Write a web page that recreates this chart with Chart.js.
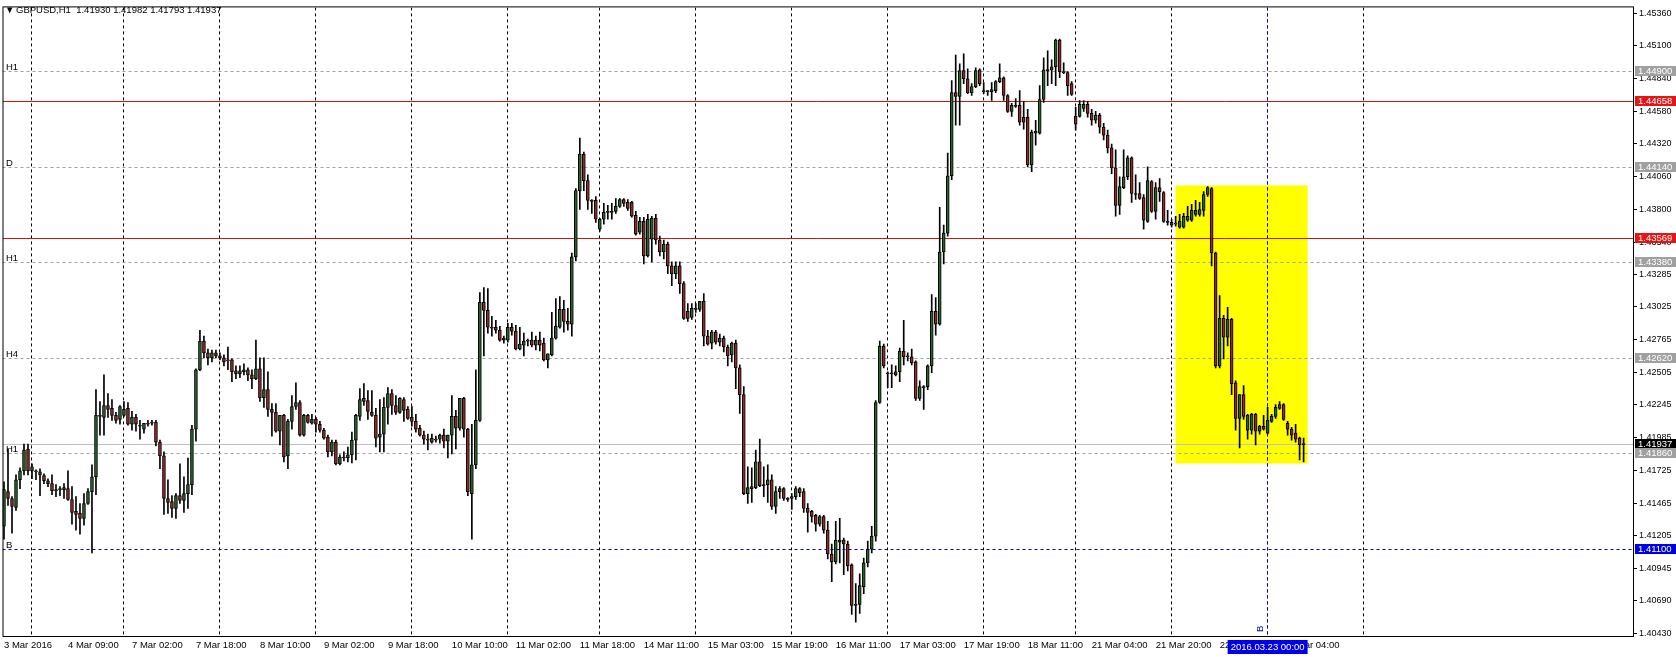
<!DOCTYPE html>
<html>
<head>
<meta charset="utf-8">
<title>GBPUSD,H1</title>
<script src="https://cdn.jsdelivr.net/npm/chart.js@4.4.1/dist/chart.umd.min.js"></script>
<style>
  html, body { margin: 0; padding: 0; background: #ffffff; }
  #wrap { width: 1676px; height: 657px; }
</style>
</head>
<body>
<div id="wrap"><canvas id="priceChart" width="1676" height="657"></canvas></div>
<script>
// GBPUSD H1 candles, bar 0 = 3 Mar 17:00 ... bar 325 = 23 Mar 09:00
const opens = [
  1.41281, 1.41557, 1.41502, 1.41431, 1.41651, 1.41722, 1.41895, 1.41722, 1.41714, 1.41714,
  1.41683, 1.41643, 1.41620, 1.41572, 1.41572, 1.41572, 1.41580, 1.41494, 1.41399, 1.41384,
  1.41344, 1.41462, 1.41557, 1.41675, 1.42163, 1.42147, 1.42241, 1.42218, 1.42163, 1.42131,
  1.42163, 1.42218, 1.42092, 1.42147, 1.42076, 1.42053, 1.42100, 1.42107, 1.42107, 1.41950,
  1.41840, 1.41502, 1.41478, 1.41423, 1.41525, 1.41486, 1.41541, 1.41612, 1.42053, 1.42525,
  1.42753, 1.42659, 1.42619, 1.42659, 1.42635, 1.42619, 1.42603, 1.42603, 1.42517, 1.42493,
  1.42509, 1.42525, 1.42485, 1.42454, 1.42533, 1.42304, 1.42367, 1.42210, 1.42186, 1.42037,
  1.42163, 1.41840, 1.42115, 1.42233, 1.42265, 1.42005, 1.42163, 1.42100, 1.42131, 1.42092,
  1.42045, 1.41989, 1.41872, 1.41950, 1.41777, 1.41832, 1.41824, 1.41848, 1.41966, 1.42155,
  1.42297, 1.42281, 1.42186, 1.42163, 1.41989, 1.42013, 1.42226, 1.42336, 1.42241, 1.42186,
  1.42289, 1.42210, 1.42147, 1.42115, 1.42060, 1.42005, 1.41974, 1.41950, 1.41974, 1.41974,
  1.42005, 1.41958, 1.42005, 1.42155, 1.42060, 1.42297, 1.42053, 1.41541, 1.41769, 1.42123,
  1.43060, 1.42997, 1.42863, 1.42863, 1.42840, 1.42777, 1.42761, 1.42863, 1.42832, 1.42690,
  1.42721, 1.42761, 1.42761, 1.42721, 1.42761, 1.42737, 1.42603, 1.42643, 1.42777, 1.42863,
  1.43005, 1.42910, 1.42887, 1.43422, 1.43949, 1.44240, 1.44028, 1.43871, 1.43871, 1.43642,
  1.43721, 1.43776, 1.43784, 1.43784, 1.43823, 1.43878, 1.43855, 1.43855, 1.43753, 1.43619,
  1.43705, 1.43430, 1.43563, 1.43729, 1.43556, 1.43461, 1.43524, 1.43351, 1.43288, 1.43351,
  1.43209, 1.42989, 1.42942, 1.43005, 1.43005, 1.43068, 1.42792, 1.42737, 1.42824, 1.42745,
  1.42777, 1.42706, 1.42643, 1.42737, 1.42540, 1.42328, 1.41541, 1.41580, 1.41588, 1.41793,
  1.41612, 1.41612, 1.41651, 1.41439, 1.41557, 1.41580, 1.41502, 1.41502, 1.41517, 1.41580,
  1.41557, 1.41423, 1.41399, 1.41368, 1.41297, 1.41359, 1.41250, 1.41061, 1.40998, 1.41155,
  1.41171, 1.41140, 1.40974, 1.40652, 1.40660, 1.40801, 1.40990, 1.41100, 1.41203, 1.42265,
  1.42714, 1.42501, 1.42493, 1.42509, 1.42509, 1.42674, 1.42635, 1.42627, 1.42588, 1.42297,
  1.42391, 1.42391, 1.42556, 1.42989, 1.42887, 1.43461, 1.43611, 1.44067, 1.44728, 1.44697,
  1.44902, 1.44838, 1.44728, 1.44775, 1.44909, 1.44744, 1.44736, 1.44736, 1.44744, 1.44815,
  1.44846, 1.44705, 1.44579, 1.44626, 1.44626, 1.44532, 1.44532, 1.44154, 1.44406, 1.44406,
  1.44673, 1.44909, 1.44909, 1.44933, 1.45145, 1.44894, 1.44886, 1.44799, 1.44539, 1.44539,
  1.44602, 1.44634, 1.44563, 1.44508, 1.44547, 1.44453, 1.44390, 1.44288, 1.44130, 1.43831,
  1.43973, 1.44059, 1.44209, 1.43926, 1.43926, 1.43894, 1.43705, 1.44020, 1.43784, 1.43973,
  1.43933, 1.43705, 1.43697, 1.43682, 1.43658, 1.43658, 1.43713, 1.43713, 1.43760, 1.43760,
  1.43792, 1.43918, 1.43965, 1.43453, 1.42556, 1.42934, 1.42784, 1.42926, 1.42422, 1.42139,
  1.42328, 1.42045, 1.42045, 1.42171, 1.42037, 1.42076, 1.42021, 1.42115, 1.42155, 1.42218,
  1.42249, 1.42100, 1.42053, 1.42021, 1.41982, 1.41930
];
const highs = [
  1.41635, 1.41895, 1.41517, 1.41690, 1.41746, 1.41934, 1.41934, 1.41777, 1.41730, 1.41738,
  1.41698, 1.41659, 1.41690, 1.41612, 1.41596, 1.41620, 1.41722, 1.41596, 1.41517, 1.41462,
  1.41541, 1.41580, 1.41769, 1.42367, 1.42273, 1.42485, 1.42336, 1.42289, 1.42186, 1.42240,
  1.42273, 1.42265, 1.42194, 1.42171, 1.42123, 1.42100, 1.42123, 1.42123, 1.42123, 1.41966,
  1.41872, 1.41651, 1.41525, 1.41541, 1.41777, 1.41675, 1.41824, 1.42084, 1.42533, 1.42839,
  1.42792, 1.42690, 1.42682, 1.42682, 1.42659, 1.42643, 1.42706, 1.42611, 1.42556, 1.42556,
  1.42572, 1.42540, 1.42525, 1.42761, 1.42619, 1.42619, 1.42509, 1.42257, 1.42257, 1.42163,
  1.42171, 1.42131, 1.42320, 1.42422, 1.42281, 1.42171, 1.42171, 1.42171, 1.42147, 1.42115,
  1.42060, 1.42005, 1.41966, 1.41966, 1.41848, 1.41872, 1.41911, 1.42029, 1.42171, 1.42375,
  1.42415, 1.42359, 1.42359, 1.42218, 1.42289, 1.42304, 1.42383, 1.42367, 1.42320, 1.42304,
  1.42304, 1.42233, 1.42233, 1.42171, 1.42084, 1.42037, 1.42013, 1.42013, 1.41997, 1.42013,
  1.42053, 1.42005, 1.42320, 1.42202, 1.42297, 1.42305, 1.42060, 1.42092, 1.42525, 1.43139,
  1.43178, 1.43170, 1.42950, 1.42918, 1.42871, 1.42792, 1.42895, 1.42895, 1.42879, 1.42863,
  1.42816, 1.42769, 1.42824, 1.42792, 1.42824, 1.42777, 1.42651, 1.42981, 1.43091, 1.43107,
  1.43076, 1.43013, 1.43453, 1.43965, 1.44366, 1.44256, 1.44075, 1.43878, 1.43902, 1.43729,
  1.43847, 1.43831, 1.43847, 1.43886, 1.43886, 1.43886, 1.43878, 1.43863, 1.43784, 1.43737,
  1.43737, 1.43760, 1.43744, 1.43760, 1.43587, 1.43556, 1.43540, 1.43383, 1.43383, 1.43383,
  1.43225, 1.43052, 1.43052, 1.43052, 1.43068, 1.43131, 1.42839, 1.42839, 1.42839, 1.42808,
  1.42792, 1.42721, 1.42745, 1.42761, 1.42564, 1.42391, 1.41753, 1.41746, 1.41887, 1.41974,
  1.41753, 1.41769, 1.41690, 1.41596, 1.41596, 1.41588, 1.41510, 1.41541, 1.41596, 1.41588,
  1.41580, 1.41462, 1.41407, 1.41376, 1.41368, 1.41368, 1.41321, 1.41140, 1.41321, 1.41344,
  1.41187, 1.41163, 1.40982, 1.40825, 1.40903, 1.41029, 1.41163, 1.41281, 1.42281, 1.42753,
  1.42729, 1.42509, 1.42564, 1.42556, 1.42698, 1.42918, 1.42659, 1.42690, 1.42596, 1.42438,
  1.42399, 1.42564, 1.43123, 1.43099, 1.43815, 1.43674, 1.44248, 1.44823, 1.45027, 1.44957,
  1.45035, 1.44917, 1.44799, 1.44925, 1.44917, 1.44807, 1.44744, 1.44807, 1.44823, 1.44957,
  1.44854, 1.44713, 1.44642, 1.44681, 1.44744, 1.44657, 1.44595, 1.44429, 1.44508, 1.44783,
  1.45004, 1.45059, 1.44988, 1.45153, 1.45153, 1.44964, 1.44894, 1.44815, 1.44610, 1.44665,
  1.44665, 1.44657, 1.44595, 1.44579, 1.44563, 1.44484, 1.44429, 1.44319, 1.44272, 1.44059,
  1.44272, 1.44225, 1.44217, 1.44075, 1.44012, 1.43918, 1.44138, 1.44028, 1.44012, 1.44044,
  1.43941, 1.43792, 1.43721, 1.43745, 1.43760, 1.43768, 1.43823, 1.43839, 1.43871, 1.43855,
  1.43941, 1.43981, 1.43973, 1.43461, 1.43115, 1.42958, 1.43021, 1.42934, 1.42438, 1.42328,
  1.42399, 1.42171, 1.42178, 1.42178, 1.42084, 1.42163, 1.42226, 1.42171, 1.42249, 1.42273,
  1.42257, 1.42115, 1.42068, 1.42092, 1.41989, 1.41982
];
const lows = [
  1.41179, 1.41447, 1.41226, 1.41407, 1.41580, 1.41690, 1.41690, 1.41659, 1.41651, 1.41525,
  1.41620, 1.41596, 1.41533, 1.41517, 1.41525, 1.41502, 1.41486, 1.41297, 1.41250, 1.41218,
  1.41289, 1.41454, 1.41069, 1.41533, 1.42005, 1.42005, 1.42147, 1.42123, 1.42100, 1.42092,
  1.42155, 1.42084, 1.42045, 1.42037, 1.41974, 1.42021, 1.42076, 1.42084, 1.41919, 1.41738,
  1.41376, 1.41384, 1.41352, 1.41344, 1.41462, 1.41391, 1.41423, 1.41533, 1.41958, 1.42517,
  1.42619, 1.42564, 1.42588, 1.42619, 1.42603, 1.42556, 1.42525, 1.42430, 1.42454, 1.42462,
  1.42485, 1.42438, 1.42375, 1.42446, 1.42273, 1.42226, 1.42155, 1.41997, 1.42029, 1.41927,
  1.41793, 1.41738, 1.42053, 1.42210, 1.41997, 1.41997, 1.42100, 1.42092, 1.42029, 1.42029,
  1.41974, 1.41832, 1.41840, 1.41769, 1.41769, 1.41801, 1.41793, 1.41785, 1.41809, 1.42123,
  1.42241, 1.42131, 1.42155, 1.41911, 1.41872, 1.41872, 1.42092, 1.42171, 1.42171, 1.42178,
  1.42115, 1.42131, 1.42076, 1.42029, 1.41997, 1.41934, 1.41887, 1.41942, 1.41950, 1.41942,
  1.41903, 1.41824, 1.41856, 1.41895, 1.42045, 1.41989, 1.41525, 1.41179, 1.41738, 1.42115,
  1.42635, 1.42816, 1.42792, 1.42816, 1.42753, 1.42737, 1.42745, 1.42800, 1.42682, 1.42682,
  1.42635, 1.42714, 1.42706, 1.42682, 1.42674, 1.42596, 1.42540, 1.42635, 1.42769, 1.42855,
  1.42824, 1.42840, 1.42792, 1.43390, 1.43800, 1.43949, 1.43800, 1.43768, 1.43697, 1.43627,
  1.43682, 1.43721, 1.43721, 1.43768, 1.43815, 1.43823, 1.43792, 1.43737, 1.43595, 1.43603,
  1.43367, 1.43422, 1.43383, 1.43524, 1.43430, 1.43406, 1.43288, 1.43194, 1.43249, 1.43131,
  1.42926, 1.42910, 1.42926, 1.42981, 1.42989, 1.42714, 1.42721, 1.42690, 1.42729, 1.42714,
  1.42666, 1.42556, 1.42588, 1.42375, 1.42178, 1.41533, 1.41462, 1.41470, 1.41580, 1.41596,
  1.41517, 1.41470, 1.41415, 1.41384, 1.41502, 1.41486, 1.41478, 1.41415, 1.41494, 1.41517,
  1.41391, 1.41234, 1.41313, 1.41242, 1.41281, 1.41226, 1.41022, 1.40840, 1.40982, 1.40990,
  1.40896, 1.40927, 1.40581, 1.40518, 1.40589, 1.40746, 1.40959, 1.41069, 1.41163, 1.42257,
  1.42540, 1.42383, 1.42383, 1.42477, 1.42430, 1.42564, 1.42596, 1.42564, 1.42281, 1.42281,
  1.42210, 1.42367, 1.42501, 1.42800, 1.42879, 1.43367, 1.43587, 1.44036, 1.44469, 1.44469,
  1.44799, 1.44720, 1.44705, 1.44768, 1.44783, 1.44720, 1.44705, 1.44665, 1.44728, 1.44807,
  1.44665, 1.44571, 1.44539, 1.44610, 1.44469, 1.44437, 1.44138, 1.44099, 1.44311, 1.44398,
  1.44650, 1.44783, 1.44799, 1.44783, 1.44846, 1.44878, 1.44705, 1.44705, 1.44429, 1.44532,
  1.44579, 1.44532, 1.44469, 1.44484, 1.44406, 1.44351, 1.44248, 1.44083, 1.43745, 1.43760,
  1.43965, 1.44036, 1.43855, 1.43878, 1.43878, 1.43642, 1.43697, 1.43776, 1.43721, 1.43863,
  1.43697, 1.43674, 1.43658, 1.43666, 1.43650, 1.43650, 1.43705, 1.43705, 1.43745, 1.43745,
  1.43745, 1.43902, 1.43351, 1.42540, 1.42540, 1.42611, 1.42714, 1.42328, 1.42045, 1.41903,
  1.42131, 1.41974, 1.42013, 1.41927, 1.42013, 1.42045, 1.42013, 1.42107, 1.42139, 1.42210,
  1.42123, 1.42005, 1.41966, 1.41950, 1.41809, 1.41793
];
const closes = [
  1.41572, 1.41502, 1.41439, 1.41651, 1.41722, 1.41887, 1.41722, 1.41753, 1.41720, 1.41690,
  1.41643, 1.41620, 1.41565, 1.41565, 1.41580, 1.41588, 1.41494, 1.41391, 1.41376, 1.41344,
  1.41462, 1.41557, 1.41675, 1.42163, 1.42155, 1.42241, 1.42210, 1.42163, 1.42123, 1.42233,
  1.42210, 1.42092, 1.42147, 1.42092, 1.42084, 1.42100, 1.42092, 1.42100, 1.41950, 1.41840,
  1.41502, 1.41470, 1.41423, 1.41525, 1.41486, 1.41541, 1.41612, 1.42053, 1.42525, 1.42753,
  1.42659, 1.42619, 1.42659, 1.42635, 1.42619, 1.42588, 1.42596, 1.42509, 1.42493, 1.42517,
  1.42525, 1.42485, 1.42454, 1.42533, 1.42304, 1.42367, 1.42210, 1.42186, 1.42037, 1.42163,
  1.41832, 1.42115, 1.42233, 1.42265, 1.42005, 1.42163, 1.42107, 1.42131, 1.42092, 1.42045,
  1.41982, 1.41872, 1.41950, 1.41777, 1.41832, 1.41824, 1.41848, 1.41966, 1.42163, 1.42289,
  1.42273, 1.42194, 1.42163, 1.41982, 1.42013, 1.42226, 1.42336, 1.42241, 1.42186, 1.42297,
  1.42202, 1.42139, 1.42115, 1.42053, 1.42005, 1.41974, 1.41966, 1.41982, 1.41966, 1.42005,
  1.41958, 1.42005, 1.42155, 1.42060, 1.42297, 1.42053, 1.41557, 1.41769, 1.42123, 1.43060,
  1.42997, 1.42863, 1.42855, 1.42840, 1.42761, 1.42761, 1.42863, 1.42832, 1.42690, 1.42729,
  1.42753, 1.42753, 1.42721, 1.42761, 1.42721, 1.42603, 1.42651, 1.42777, 1.42871, 1.43005,
  1.42910, 1.42887, 1.43422, 1.43949, 1.44240, 1.44028, 1.43871, 1.43863, 1.43721, 1.43721,
  1.43776, 1.43784, 1.43776, 1.43823, 1.43878, 1.43847, 1.43808, 1.43745, 1.43603, 1.43705,
  1.43430, 1.43721, 1.43729, 1.43556, 1.43461, 1.43524, 1.43351, 1.43288, 1.43351, 1.43209,
  1.42934, 1.42934, 1.43013, 1.43013, 1.43068, 1.42792, 1.42729, 1.42824, 1.42745, 1.42777,
  1.42706, 1.42635, 1.42737, 1.42540, 1.42328, 1.41541, 1.41588, 1.41596, 1.41793, 1.41604,
  1.41604, 1.41651, 1.41439, 1.41557, 1.41580, 1.41502, 1.41495, 1.41517, 1.41580, 1.41549,
  1.41423, 1.41391, 1.41359, 1.41297, 1.41359, 1.41250, 1.41061, 1.40998, 1.41171, 1.41171,
  1.41140, 1.40966, 1.40652, 1.40660, 1.40809, 1.40990, 1.41100, 1.41203, 1.42265, 1.42714,
  1.42556, 1.42493, 1.42501, 1.42485, 1.42674, 1.42627, 1.42627, 1.42580, 1.42297, 1.42391,
  1.42383, 1.42556, 1.42989, 1.42887, 1.43461, 1.43611, 1.44067, 1.44728, 1.44697, 1.44902,
  1.44838, 1.44728, 1.44775, 1.44902, 1.44799, 1.44736, 1.44744, 1.44752, 1.44815, 1.44846,
  1.44705, 1.44579, 1.44626, 1.44618, 1.44492, 1.44492, 1.44154, 1.44414, 1.44421, 1.44673,
  1.44909, 1.44902, 1.44933, 1.45145, 1.44894, 1.44886, 1.44783, 1.44713, 1.44476, 1.44634,
  1.44634, 1.44563, 1.44508, 1.44547, 1.44453, 1.44390, 1.44288, 1.44130, 1.43831, 1.43981,
  1.44059, 1.44209, 1.43926, 1.43918, 1.43886, 1.43713, 1.44028, 1.43784, 1.43973, 1.43941,
  1.43705, 1.43697, 1.43674, 1.43689, 1.43705, 1.43745, 1.43745, 1.43792, 1.43792, 1.43799,
  1.43918, 1.43973, 1.43453, 1.42556, 1.42934, 1.42784, 1.42926, 1.42415, 1.42139, 1.42328,
  1.42155, 1.42163, 1.42171, 1.42037, 1.42076, 1.42053, 1.42123, 1.42155, 1.42226, 1.42249,
  1.42131, 1.42053, 1.42005, 1.41974, 1.41927, 1.41937
];

// time axis: one label every 16 bars
const labelBars = [0, 16, 32, 48, 64, 80, 96, 112, 128, 144, 160, 176, 192, 208, 224, 240, 256, 272, 288, 304, 320];
const timeLabels = ['3 Mar 2016', '4 Mar 09:00', '7 Mar 02:00', '7 Mar 18:00', '8 Mar 10:00', '9 Mar 02:00',
  '9 Mar 18:00', '10 Mar 10:00', '11 Mar 02:00', '11 Mar 18:00', '14 Mar 11:00', '15 Mar 03:00',
  '15 Mar 19:00', '16 Mar 11:00', '17 Mar 03:00', '17 Mar 19:00', '18 Mar 11:00', '21 Mar 04:00',
  '21 Mar 20:00', '22 Mar 12:00', '23 Mar 04:00'];
// day separators (bar index of 00:00)
const daySeparators = [7, 30, 54, 78, 102, 126, 149, 173, 197, 221, 245, 268, 292, 316, 340];

// price axis ticks as the terminal prints them
const priceTicks = [1.45360, 1.45100, 1.44840, 1.44580, 1.44320, 1.44060, 1.43800, 1.43540, 1.43285, 1.43025,
  1.42765, 1.42505, 1.42245, 1.41985, 1.41725, 1.41465, 1.41205, 1.40945, 1.40690, 1.40430];

// horizontal lines drawn on the chart
const levelPrices = [1.44900, 1.44658, 1.44140, 1.43569, 1.43380, 1.42620, 1.41937, 1.41860, 1.41100];
const levelKinds = ['gray', 'red', 'gray', 'red', 'gray', 'gray', 'bid', 'gray', 'blue'];
const levelTags = ['H1', '', 'D', '', 'H1', 'H4', '', 'H1', 'B'];

// vertical line and yellow rectangle
const markerBar = 316;
const markerTag = 'B';
const markerTime = '2016.03.23 00:00';
const boxBars = [293, 326];
const boxPrices = [1.43990, 1.41780];

const symbolTitle = 'GBPUSD,H1';
const FAMILY = '"Liberation Sans", Arial, sans-serif';
const FONT = '9.5px ' + FAMILY;
const BULL = '#286428';
const BEAR = '#962828';

const levelStyles = {
  gray: { line: '#a0a0a0', dash: [3, 3], box: '#a0a0a0' },
  red: { line: '#c81414', dash: [], box: '#e61414' },
  bid: { line: '#c0c0c0', dash: [], box: '#000000' },
  blue: { line: '#0000b4', dash: [3, 3], box: '#0000e6' }
};

const wickData = highs.map((h, i) => ({ x: i, y: [lows[i], h] }));
const bodyData = opens.map((o, i) => ({ x: i, y: [o, closes[i]] }));

const overlay = {
  id: 'overlay',
  beforeDatasetsDraw(chart) {
    const { ctx, chartArea: a, scales: { x, y } } = chart;
    ctx.save();
    ctx.beginPath();
    ctx.rect(a.left, a.top, a.right - a.left, a.bottom - a.top);
    ctx.clip();

    // yellow rectangle
    const rx1 = x.getPixelForValue(boxBars[0]);
    const rx2 = x.getPixelForValue(boxBars[1]);
    const ry1 = y.getPixelForValue(boxPrices[0]);
    const ry2 = y.getPixelForValue(boxPrices[1]);
    ctx.fillStyle = '#ffff00';
    ctx.fillRect(rx1, ry1, rx2 - rx1, ry2 - ry1);

    // period separators
    ctx.lineWidth = 1;
    ctx.strokeStyle = '#000000';
    ctx.setLineDash([3, 3]);
    daySeparators.forEach(b => {
      const px = Math.floor(x.getPixelForValue(b)) + 0.5;
      ctx.beginPath();
      ctx.moveTo(px, a.top);
      ctx.lineTo(px, a.bottom);
      ctx.stroke();
    });

    // vertical marker line
    const mx = Math.floor(x.getPixelForValue(markerBar)) + 0.5;
    ctx.strokeStyle = levelStyles.blue.line;
    ctx.beginPath();
    ctx.moveTo(mx, a.top);
    ctx.lineTo(mx, a.bottom);
    ctx.stroke();

    // horizontal levels
    ctx.font = FONT;
    levelPrices.forEach((p, i) => {
      const st = levelStyles[levelKinds[i]];
      const py = Math.round(y.getPixelForValue(p)) + 0.5;
      ctx.strokeStyle = st.line;
      ctx.setLineDash(st.dash);
      ctx.beginPath();
      ctx.moveTo(a.left, py);
      ctx.lineTo(a.right, py);
      ctx.stroke();
      if (levelTags[i]) {
        ctx.fillStyle = '#000000';
        ctx.textAlign = 'left';
        ctx.textBaseline = 'alphabetic';
        ctx.fillText(levelTags[i], 6, py - 2);
      }
    });

    // tag of the vertical line, rotated
    ctx.save();
    ctx.translate(mx - 2, a.bottom - 4);
    ctx.rotate(-Math.PI / 2);
    ctx.fillStyle = levelStyles.blue.line;
    ctx.textAlign = 'left';
    ctx.textBaseline = 'bottom';
    ctx.fillText(markerTag, 0, 0);
    ctx.restore();

    ctx.restore();
  },
  afterDraw(chart) {
    const { ctx, chartArea: a, scales: { x, y } } = chart;
    ctx.save();
    ctx.setLineDash([]);

    // frame
    ctx.strokeStyle = '#000000';
    ctx.lineWidth = 1;
    ctx.strokeRect(a.left + 0.5, a.top - 0.5, a.right - a.left, a.bottom - a.top + 1);

    // price boxes on the axis
    ctx.font = FONT;
    ctx.textBaseline = 'middle';
    ctx.textAlign = 'left';
    levelPrices.forEach((p, i) => {
      const st = levelStyles[levelKinds[i]];
      const py = Math.round(y.getPixelForValue(p));
      ctx.fillStyle = st.box;
      ctx.fillRect(a.right + 2, py - 5, 43, 10);
      ctx.fillStyle = '#ffffff';
      ctx.fillText(p.toFixed(5), a.right + 5, py + 0.5);
    });

    // time box under the vertical line
    const mx = x.getPixelForValue(markerBar);
    ctx.fillStyle = '#0000e6';
    ctx.fillRect(mx - 40, a.bottom + 4, 80, 14);
    ctx.fillStyle = '#ffffff';
    ctx.textAlign = 'center';
    ctx.fillText(markerTime, mx, a.bottom + 11);

    // title
    const last = closes.length - 1;
    ctx.fillStyle = '#000000';
    ctx.textAlign = 'left';
    ctx.fillText('\u25BC', 5, 10);
    ctx.fillText(symbolTitle + '  ' + opens[last].toFixed(5) + ' ' + highs[last].toFixed(5) + ' ' +
      lows[last].toFixed(5) + ' ' + closes[last].toFixed(5), 16, 10);
    ctx.restore();
  }
};

new Chart(document.getElementById('priceChart'), {
  type: 'bar',
  data: {
    datasets: [
      {
        label: 'Body',
        data: bodyData,
        backgroundColor: c => (closes[c.dataIndex] >= opens[c.dataIndex] ? BULL : BEAR),
        borderColor: '#000000',
        borderWidth: 1,
        borderSkipped: false,
        barThickness: 3,
        minBarLength: 1,
        grouped: false,
        order: 0
      },
      {
        label: 'Wick',
        data: wickData,
        backgroundColor: '#000000',
        borderWidth: 0,
        barThickness: 1,
        grouped: false,
        order: 1
      }
    ]
  },
  options: {
    responsive: false,
    animation: false,
    devicePixelRatio: 1,
    layout: { padding: { left: 2, top: 1, right: 0, bottom: 0 } },
    plugins: { legend: { display: false }, tooltip: { enabled: false } },
    scales: {
      x: {
        type: 'linear',
        min: -0.375,
        max: 407.375,
        offset: false,
        grid: { display: false, drawTicks: false },
        border: { display: false },
        ticks: {
          autoSkip: false,
          maxRotation: 0,
          minRotation: 0,
          align: 'start',
          padding: 4,
          color: '#000000',
          font: { family: FAMILY, size: 9.5 },
          callback: (v, i) => timeLabels[i]
        },
        afterBuildTicks: s => { s.ticks = labelBars.map(v => ({ value: v })); },
        afterFit: s => { s.height = 21; }
      },
      y: {
        position: 'right',
        min: 1.40409,
        max: 1.45405,
        grid: { drawOnChartArea: false, color: '#000000', tickLength: 4 },
        border: { display: false },
        ticks: {
          autoSkip: false,
          padding: 2,
          color: '#000000',
          font: { family: FAMILY, size: 9 },
          callback: v => v.toFixed(5)
        },
        afterBuildTicks: s => { s.ticks = priceTicks.map(v => ({ value: v })); },
        afterFit: s => { s.width = 43; }
      }
    }
  },
  plugins: [overlay]
});
</script>
</body>
</html>
